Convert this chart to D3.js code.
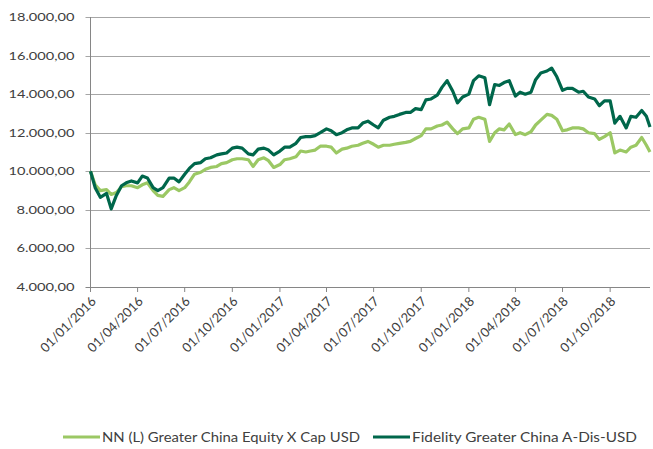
<!DOCTYPE html>
<html>
<head>
<meta charset="utf-8">
<script src="https://cdn.jsdelivr.net/npm/d3@7"></script>
<style>
  body { margin: 0; background: #fff; }
  text { font-family: Lato, "Open Sans", sans-serif; fill: #404040; }
</style>
</head>
<body>
<div id="chart"></div>
<script>
var dates = [
  '2016-01-01','2016-01-10','2016-01-20','2016-02-01','2016-02-10','2016-02-20','2016-03-01','2016-03-10','2016-03-20',
  '2016-04-01','2016-04-10','2016-04-20','2016-05-01','2016-05-10','2016-05-20','2016-06-01','2016-06-10','2016-06-20',
  '2016-07-01','2016-07-10','2016-07-20','2016-08-01','2016-08-10','2016-08-20','2016-09-01','2016-09-10','2016-09-20',
  '2016-10-01','2016-10-10','2016-10-20','2016-11-01','2016-11-10','2016-11-20','2016-12-01','2016-12-10','2016-12-20',
  '2017-01-01','2017-01-10','2017-01-20','2017-02-01','2017-02-10','2017-02-20','2017-03-01','2017-03-10','2017-03-20',
  '2017-04-01','2017-04-10','2017-04-20','2017-05-01','2017-05-10','2017-05-20','2017-06-01','2017-06-10','2017-06-20',
  '2017-07-01','2017-07-10','2017-07-20','2017-08-01','2017-08-10','2017-08-20','2017-09-01','2017-09-10','2017-09-20',
  '2017-10-01','2017-10-10','2017-10-20','2017-11-01','2017-11-10','2017-11-20','2017-12-01','2017-12-10','2017-12-20',
  '2018-01-01','2018-01-10','2018-01-20','2018-02-01','2018-02-10','2018-02-20','2018-03-01','2018-03-10','2018-03-20',
  '2018-04-01','2018-04-10','2018-04-20','2018-05-01','2018-05-10','2018-05-20','2018-06-01','2018-06-10','2018-06-20',
  '2018-07-01','2018-07-10','2018-07-20','2018-08-01','2018-08-10','2018-08-20','2018-09-01','2018-09-10','2018-09-20',
  '2018-10-01','2018-10-10','2018-10-20','2018-11-01','2018-11-10','2018-11-20','2018-12-01','2018-12-10','2018-12-17'
];

// NN (L) Greater China Equity X Cap USD
var nnValues = [
  10000, 9300, 9000, 9050, 8800, 8900, 9200, 9250, 9250,
  9150, 9300, 9400, 9000, 8750, 8700, 9050, 9150, 9000,
  9150, 9450, 9850, 9950, 10100, 10200, 10250, 10400, 10450,
  10600, 10650, 10650, 10600, 10250, 10600, 10700, 10550, 10200,
  10350, 10600, 10650, 10750, 11050, 11000, 11050, 11100, 11300,
  11300, 11250, 10950, 11150, 11200, 11300, 11350, 11450, 11550,
  11400, 11250, 11350, 11350, 11400, 11450, 11500, 11550, 11700,
  11850, 12200, 12200, 12350, 12400, 12550, 12200, 11950, 12200,
  12250, 12700, 12800, 12700, 11550, 12000, 12200, 12150, 12450,
  11900, 12000, 11900, 12050, 12400, 12650, 12950, 12900, 12700,
  12100, 12150, 12250, 12250, 12200, 12000, 11950, 11650, 11800,
  12000, 10950, 11100, 11000, 11250, 11350, 11750, 11350, 11000
];

// Fidelity Greater China A-Dis-USD
var fidValues = [
  10000, 9150, 8650, 8850, 8050, 8750, 9250, 9400, 9500,
  9400, 9750, 9650, 9150, 9000, 9150, 9650, 9650, 9450,
  9850, 10150, 10400, 10450, 10650, 10700, 10850, 10900, 10950,
  11200, 11250, 11200, 10900, 10850, 11150, 11200, 11100, 10850,
  11050, 11250, 11250, 11450, 11750, 11800, 11800, 11850, 12000,
  12200, 12100, 11900, 12000, 12150, 12250, 12250, 12500, 12600,
  12400, 12250, 12650, 12800, 12850, 12950, 13050, 13050, 13250,
  13200, 13700, 13750, 13950, 14350, 14700, 14150, 13550, 13850,
  14000, 14700, 14950, 14850, 13450, 14500, 14450, 14600, 14700,
  13900, 14100, 14000, 14100, 14750, 15100, 15200, 15350, 14900,
  14200, 14300, 14300, 14100, 14150, 13850, 13750, 13400, 13650,
  13650, 12500, 12850, 12250, 12850, 12800, 13150, 12850, 12300
];

var seriesNames = ['NN (L) Greater China Equity X Cap USD', 'Fidelity Greater China A-Dis-USD'];
var seriesColors = ['#9bc864', '#00674b'];

var xTickDates = ['2016-01-01','2016-04-01','2016-07-01','2016-10-01','2017-01-01','2017-04-01',
  '2017-07-01','2017-10-01','2018-01-01','2018-04-01','2018-07-01','2018-10-01'];
var yTicks = [4000, 6000, 8000, 10000, 12000, 14000, 16000, 18000];

var width = 653,
  height = 449;

var margin = { top: 17, right: 3, bottom: 162, left: 90.5 };

var parse = d3.timeParse('%Y-%m-%d');

var svg = d3.select('#chart')
  .append('svg')
  .attr('width', width)
  .attr('height', height);

var innerW = width - margin.left - margin.right,
  innerH = height - margin.top - margin.bottom;

var g = svg.append('g')
  .attr('transform', 'translate(' + margin.left + ',' + margin.top + ')');

var xScale = d3.scaleTime()
  .domain([parse(dates[0]), parse(dates[dates.length - 1])])
  .range([0, innerW]);

var yScale = d3.scaleLinear()
  .domain([4000, 18000])
  .range([innerH, 0]);

// 18.000,00 style numbers
var fmt = function(v) {
  return d3.format(',.2f')(v).replace(/,/g, '#').replace('.', ',').replace(/#/g, '.');
};

// gridlines (they run a few px past the axis, like tick marks)
g.append('g')
  .selectAll('line')
  .data(yTicks)
  .enter()
  .append('line')
  .attr('x1', -5)
  .attr('x2', innerW)
  .attr('y1', function(d) { return Math.round(yScale(d)) + 0.5; })
  .attr('y2', function(d) { return Math.round(yScale(d)) + 0.5; })
  .attr('stroke', function(d) { return d === 4000 ? '#868686' : '#a6a6a6'; })
  .attr('stroke-width', 1);

// y labels, stretched wide like the original
g.append('g')
  .selectAll('text')
  .data(yTicks)
  .enter()
  .append('text')
  .attr('x', -16)
  .attr('y', function(d) { return yScale(d); })
  .attr('dy', '0.35em')
  .attr('text-anchor', 'end')
  .attr('textLength', function(d) { return d >= 10000 ? 66 : 58; })
  .attr('lengthAdjust', 'spacingAndGlyphs')
  .style('font-size', '11.5px')
  .text(fmt);

// y axis line
g.append('line')
  .attr('x1', 0).attr('x2', 0)
  .attr('y1', 0).attr('y2', innerH)
  .attr('stroke', '#868686');

// x ticks + labels
var xt = g.append('g')
  .attr('transform', 'translate(0,' + innerH + ')')
  .selectAll('g')
  .data(xTickDates)
  .enter()
  .append('g')
  .attr('transform', function(d) { return 'translate(' + xScale(parse(d)) + ',0)'; });

xt.append('line')
  .attr('y1', 0).attr('y2', 5)
  .attr('stroke', '#868686');

xt.append('text')
  .attr('transform', 'translate(3,12) rotate(-45)')
  .attr('text-anchor', 'end')
  .attr('dy', '0.35em')
  .style('font-size', '13px')
  .text(function(d) {
    return d3.timeFormat('%d/%m/%Y')(parse(d));
  });

// lines
var line = d3.line()
  .x(function(d) { return xScale(d.date); })
  .y(function(d) { return yScale(d.value); });

[nnValues, fidValues].forEach(function(vals, i) {
  var pts = vals.map(function(v, j) { return { date: parse(dates[j]), value: v }; });
  g.append('path')
    .datum(pts)
    .attr('fill', 'none')
    .attr('stroke', seriesColors[i])
    .attr('stroke-width', 3.2)
    .attr('stroke-linejoin', 'round')
    .attr('d', line);
});

// legend
var legendX = [63, 373];
var legendLen = [258, 225];
var legend = svg.selectAll('.legend')
  .data(seriesNames)
  .enter()
  .append('g')
  .attr('class', 'legend')
  .attr('transform', function(d, i) { return 'translate(' + legendX[i] + ',437)'; });

legend.append('line')
  .attr('x1', 0).attr('x2', 37)
  .attr('stroke', function(d, i) { return seriesColors[i]; })
  .attr('stroke-width', 3);

legend.append('text')
  .attr('x', 39)
  .attr('dy', '0.35em')
  .attr('textLength', function(d, i) { return legendLen[i]; })
  .attr('lengthAdjust', 'spacingAndGlyphs')
  .style('font-size', '13px')
  .text(function(d) { return d; });
</script>
</body>
</html>
